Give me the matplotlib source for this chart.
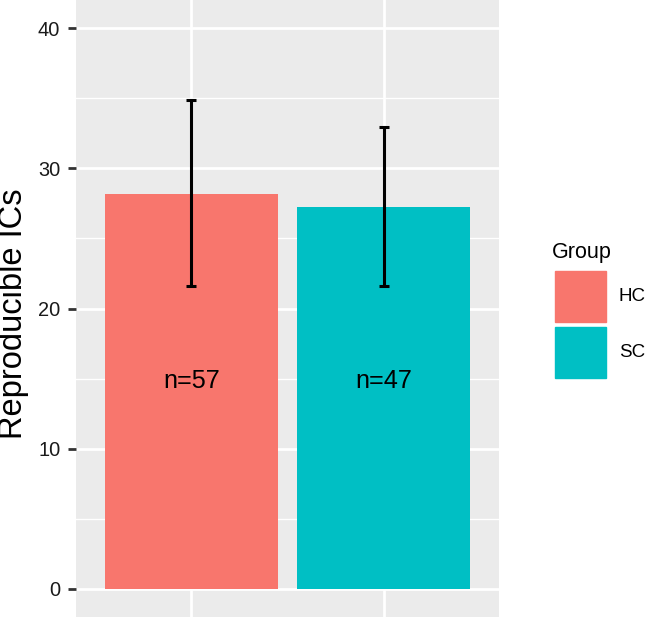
import matplotlib
matplotlib.use("Agg")
import matplotlib.pyplot as plt
from matplotlib.patches import Rectangle

# data
groups = ["HC", "SC"]
means = [28.2, 27.25]
err_low = [21.6, 21.6]
err_high = [34.85, 32.95]
n_labels = ["n=57", "n=47"]
colors = ["#F8766D", "#00BFC4"]

plt.rcParams['font.family'] = ['Liberation Sans', 'DejaVu Sans']

W, H = 645, 617
fig = plt.figure(figsize=(W / 100, H / 100), dpi=100)

# panel
ax = fig.add_axes([75.7 / W, 0, (499.3 - 75.7) / W, 1])
ax.set_facecolor("#EBEBEB")
x = [1, 2]
ax.bar(x, means, width=0.9, color=colors, zorder=3)
yerr = [[m - lo for m, lo in zip(means, err_low)],
        [hi - m for m, hi in zip(means, err_high)]]
ax.errorbar(x, means, yerr=yerr, fmt="none", ecolor="black",
            elinewidth=2.2, capsize=3.6, capthick=2.2, zorder=4)
for xi, lab in zip(x, n_labels):
    ax.text(xi, 14.8, lab, ha="center", va="center", fontsize=18.2, zorder=5)

ax.set_xlim(0.4, 2.6)
ax.set_ylim(-2, 42)
ax.set_yticks([0, 10, 20, 30, 40])
ax.set_yticks([5, 15, 25, 35], minor=True)
ax.set_xticks(x)
ax.set_xticklabels([])
ax.grid(which="major", color="white", linewidth=2.0, zorder=0)
ax.grid(which="minor", axis="y", color="white", linewidth=1.0, zorder=0)
ax.set_axisbelow(True)
for s in ax.spines.values():
    s.set_visible(False)
ax.tick_params(axis="y", which="major", length=5.8, width=2.0, color="#333333",
               labelsize=14.4, labelcolor="#1a1a1a", pad=5.3)
ax.tick_params(axis="y", which="minor", length=0)
ax.tick_params(axis="x", length=0)

fig.text(14 / W, 1 - 314 / H, "Reproducible ICs", rotation=90, ha="center",
         va="center", fontsize=23.5)

# legend
fig.text(552 / W, 1 - 258 / H, "Group", ha="left", va="baseline", fontsize=15.5)
key_top = [271, 326.7]
for top, c, g in zip(key_top, colors, groups):
    fig.add_artist(Rectangle((555 / W, 1 - (top + 51) / H), 51 / W, 51 / H,
                             transform=fig.transFigure, color=c))
    fig.text(619 / W, 1 - (top + 25.5) / H, g, ha="left", va="center",
             fontsize=13.5)

fig.savefig("out.png", dpi=100)
